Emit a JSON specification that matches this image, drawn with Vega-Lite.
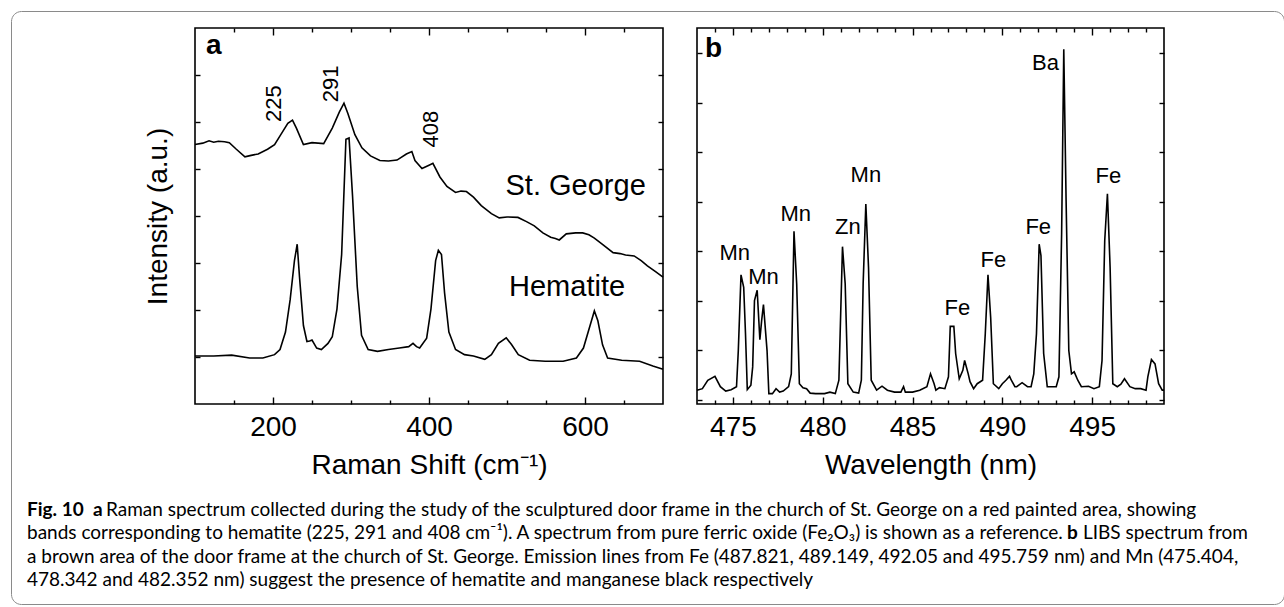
{
  "$schema": "https://vega.github.io/schema/vega-lite/v6.json",
  "padding": {"left": 10, "top": 10, "right": 0, "bottom": 0},
  "background": "white",
  "config": {
    "font": "Liberation Sans",
    "view": {"stroke": "black", "strokeWidth": 1.6},
    "axis": {"domain": false, "grid": false, "tickColor": "black", "tickWidth": 1.4, "labelColor": "black", "titleColor": "black", "labelFont": "Liberation Sans", "titleFont": "Liberation Sans", "labelFontSize": 28, "titleFontSize": 28, "titleFontWeight": "normal"},
    "text": {"font": "Liberation Sans", "color": "black"}
  },
  "datasets": {
    "raman": [
      {"sample":"St. George","shift":100,"intensity":5.52},{"sample":"St. George","shift":110,"intensity":5.55},{"sample":"St. George","shift":118,"intensity":5.6},{"sample":"St. George","shift":124,"intensity":5.57},{"sample":"St. George","shift":130,"intensity":5.59},{"sample":"St. George","shift":138,"intensity":5.58},{"sample":"St. George","shift":144,"intensity":5.56},{"sample":"St. George","shift":153,"intensity":5.42},{"sample":"St. George","shift":164,"intensity":5.26},{"sample":"St. George","shift":172,"intensity":5.29},{"sample":"St. George","shift":181,"intensity":5.32},{"sample":"St. George","shift":193,"intensity":5.42},{"sample":"St. George","shift":202,"intensity":5.52},{"sample":"St. George","shift":210,"intensity":5.73},{"sample":"St. George","shift":219,"intensity":5.97},{"sample":"St. George","shift":225,"intensity":6.04},{"sample":"St. George","shift":230,"intensity":5.87},{"sample":"St. George","shift":239,"intensity":5.52},{"sample":"St. George","shift":250,"intensity":5.56},{"sample":"St. George","shift":265,"intensity":5.54},{"sample":"St. George","shift":276,"intensity":5.87},{"sample":"St. George","shift":285,"intensity":6.21},{"sample":"St. George","shift":291,"intensity":6.4},{"sample":"St. George","shift":296,"intensity":6.18},{"sample":"St. George","shift":305,"intensity":5.73},{"sample":"St. George","shift":314,"intensity":5.45},{"sample":"St. George","shift":325,"intensity":5.28},{"sample":"St. George","shift":337,"intensity":5.18},{"sample":"St. George","shift":348,"intensity":5.17},{"sample":"St. George","shift":359,"intensity":5.19},{"sample":"St. George","shift":371,"intensity":5.32},{"sample":"St. George","shift":378,"intensity":5.37},{"sample":"St. George","shift":382,"intensity":5.18},{"sample":"St. George","shift":391,"intensity":5.01},{"sample":"St. George","shift":400,"intensity":5.08},{"sample":"St. George","shift":405,"intensity":5.12},{"sample":"St. George","shift":414,"intensity":4.83},{"sample":"St. George","shift":423,"intensity":4.63},{"sample":"St. George","shift":434,"intensity":4.5},{"sample":"St. George","shift":441,"intensity":4.53},{"sample":"St. George","shift":448,"intensity":4.52},{"sample":"St. George","shift":457,"intensity":4.4},{"sample":"St. George","shift":467,"intensity":4.22},{"sample":"St. George","shift":480,"intensity":4.05},{"sample":"St. George","shift":490,"intensity":3.96},{"sample":"St. George","shift":500,"intensity":3.98},{"sample":"St. George","shift":514,"intensity":3.97},{"sample":"St. George","shift":525,"intensity":3.88},{"sample":"St. George","shift":535,"intensity":3.79},{"sample":"St. George","shift":546,"intensity":3.64},{"sample":"St. George","shift":556,"intensity":3.55},{"sample":"St. George","shift":562,"intensity":3.52},{"sample":"St. George","shift":567,"intensity":3.49},{"sample":"St. George","shift":576,"intensity":3.62},{"sample":"St. George","shift":588,"intensity":3.64},{"sample":"St. George","shift":597,"intensity":3.64},{"sample":"St. George","shift":605,"intensity":3.6},{"sample":"St. George","shift":612,"intensity":3.53},{"sample":"St. George","shift":622,"intensity":3.4},{"sample":"St. George","shift":636,"intensity":3.22},{"sample":"St. George","shift":645,"intensity":3.2},{"sample":"St. George","shift":652,"intensity":3.17},{"sample":"St. George","shift":663,"intensity":3.15},{"sample":"St. George","shift":672,"intensity":3.05},{"sample":"St. George","shift":680,"intensity":2.94},{"sample":"St. George","shift":690,"intensity":2.82},{"sample":"St. George","shift":700,"intensity":2.7},
      {"sample":"Hematite","shift":100,"intensity":1.02},{"sample":"Hematite","shift":124,"intensity":1.02},{"sample":"Hematite","shift":147,"intensity":1.04},{"sample":"Hematite","shift":170,"intensity":0.98},{"sample":"Hematite","shift":187,"intensity":0.98},{"sample":"Hematite","shift":202,"intensity":1.05},{"sample":"Hematite","shift":209,"intensity":1.16},{"sample":"Hematite","shift":216,"intensity":1.53},{"sample":"Hematite","shift":222,"intensity":2.22},{"sample":"Hematite","shift":227.5,"intensity":3.05},{"sample":"Hematite","shift":231,"intensity":3.4},{"sample":"Hematite","shift":234,"intensity":2.7},{"sample":"Hematite","shift":239,"intensity":1.67},{"sample":"Hematite","shift":243.5,"intensity":1.33},{"sample":"Hematite","shift":247,"intensity":1.34},{"sample":"Hematite","shift":250,"intensity":1.36},{"sample":"Hematite","shift":256,"intensity":1.19},{"sample":"Hematite","shift":262,"intensity":1.16},{"sample":"Hematite","shift":270.5,"intensity":1.29},{"sample":"Hematite","shift":276,"intensity":1.43},{"sample":"Hematite","shift":282,"intensity":2.02},{"sample":"Hematite","shift":288,"intensity":3.18},{"sample":"Hematite","shift":293.5,"intensity":5.63},{"sample":"Hematite","shift":297.5,"intensity":5.66},{"sample":"Hematite","shift":302,"intensity":4.42},{"sample":"Hematite","shift":308,"intensity":2.5},{"sample":"Hematite","shift":313.5,"intensity":1.46},{"sample":"Hematite","shift":322,"intensity":1.16},{"sample":"Hematite","shift":334,"intensity":1.12},{"sample":"Hematite","shift":348,"intensity":1.16},{"sample":"Hematite","shift":362,"intensity":1.19},{"sample":"Hematite","shift":374,"intensity":1.22},{"sample":"Hematite","shift":379.5,"intensity":1.29},{"sample":"Hematite","shift":384,"intensity":1.22},{"sample":"Hematite","shift":388,"intensity":1.19},{"sample":"Hematite","shift":397,"intensity":1.4},{"sample":"Hematite","shift":402.5,"intensity":2.02},{"sample":"Hematite","shift":408.5,"intensity":3.05},{"sample":"Hematite","shift":412,"intensity":3.27},{"sample":"Hematite","shift":416,"intensity":3.18},{"sample":"Hematite","shift":420,"intensity":2.36},{"sample":"Hematite","shift":425.5,"intensity":1.53},{"sample":"Hematite","shift":434,"intensity":1.16},{"sample":"Hematite","shift":445.5,"intensity":1.05},{"sample":"Hematite","shift":457,"intensity":1.02},{"sample":"Hematite","shift":471.5,"intensity":0.95},{"sample":"Hematite","shift":480,"intensity":1.05},{"sample":"Hematite","shift":489,"intensity":1.29},{"sample":"Hematite","shift":499,"intensity":1.41},{"sample":"Hematite","shift":506,"intensity":1.26},{"sample":"Hematite","shift":514.5,"intensity":1.05},{"sample":"Hematite","shift":529,"intensity":0.93},{"sample":"Hematite","shift":549,"intensity":0.91},{"sample":"Hematite","shift":572,"intensity":0.91},{"sample":"Hematite","shift":589,"intensity":0.98},{"sample":"Hematite","shift":598,"intensity":1.19},{"sample":"Hematite","shift":606.5,"intensity":1.67},{"sample":"Hematite","shift":612,"intensity":1.98},{"sample":"Hematite","shift":616.5,"intensity":1.77},{"sample":"Hematite","shift":622.5,"intensity":1.26},{"sample":"Hematite","shift":629,"intensity":0.98},{"sample":"Hematite","shift":647,"intensity":0.93},{"sample":"Hematite","shift":670,"intensity":0.91},{"sample":"Hematite","shift":687,"intensity":0.81},{"sample":"Hematite","shift":700,"intensity":0.74}
    ],
    "ramanBands": [
      {"shift":201,"intensity":6.0,"label":"225"},
      {"shift":274,"intensity":6.42,"label":"291"},
      {"shift":402,"intensity":5.46,"label":"408"}
    ],
    "ramanNames": [
      {"shift":588,"intensity":4.64,"label":"St. George"},
      {"shift":577,"intensity":2.5,"label":"Hematite"}
    ],
    "panelA": [{"shift":114,"intensity":7.45,"label":"a"}],
    "libs": [
      {"wl":473.0,"counts":0.19},{"wl":473.3,"counts":0.22},{"wl":473.6,"counts":0.39},{"wl":474.0,"counts":0.47},{"wl":474.3,"counts":0.26},{"wl":474.6,"counts":0.17},{"wl":474.9,"counts":0.2},{"wl":475.2,"counts":0.26},{"wl":475.3,"counts":0.99},{"wl":475.45,"counts":2.52},{"wl":475.6,"counts":2.27},{"wl":475.7,"counts":1.33},{"wl":475.8,"counts":0.2},{"wl":476.0,"counts":0.29},{"wl":476.1,"counts":0.66},{"wl":476.2,"counts":2.0},{"wl":476.35,"counts":2.21},{"wl":476.5,"counts":1.21},{"wl":476.6,"counts":1.6},{"wl":476.7,"counts":1.92},{"wl":476.9,"counts":0.99},{"wl":477.0,"counts":0.12},{"wl":477.2,"counts":0.12},{"wl":477.4,"counts":0.22},{"wl":477.6,"counts":0.15},{"wl":477.8,"counts":0.17},{"wl":478.1,"counts":0.26},{"wl":478.25,"counts":0.52},{"wl":478.4,"counts":3.4},{"wl":478.55,"counts":2.34},{"wl":478.7,"counts":0.32},{"wl":478.9,"counts":0.24},{"wl":479.1,"counts":0.22},{"wl":479.3,"counts":0.13},{"wl":479.6,"counts":0.12},{"wl":480.1,"counts":0.12},{"wl":480.4,"counts":0.15},{"wl":480.7,"counts":0.12},{"wl":480.9,"counts":0.39},{"wl":481.1,"counts":3.09},{"wl":481.25,"counts":2.34},{"wl":481.4,"counts":0.32},{"wl":481.7,"counts":0.15},{"wl":482.0,"counts":0.13},{"wl":482.15,"counts":0.39},{"wl":482.25,"counts":2.34},{"wl":482.4,"counts":3.95},{"wl":482.55,"counts":2.67},{"wl":482.7,"counts":0.39},{"wl":483.0,"counts":0.19},{"wl":483.3,"counts":0.27},{"wl":483.6,"counts":0.19},{"wl":484.0,"counts":0.15},{"wl":484.35,"counts":0.15},{"wl":484.5,"counts":0.26},{"wl":484.6,"counts":0.15},{"wl":485.0,"counts":0.15},{"wl":485.4,"counts":0.19},{"wl":485.8,"counts":0.26},{"wl":486.0,"counts":0.52},{"wl":486.2,"counts":0.32},{"wl":486.3,"counts":0.19},{"wl":486.5,"counts":0.24},{"wl":486.8,"counts":0.22},{"wl":487.0,"counts":0.46},{"wl":487.1,"counts":1.48},{"wl":487.3,"counts":1.48},{"wl":487.4,"counts":0.93},{"wl":487.6,"counts":0.42},{"wl":487.8,"counts":0.59},{"wl":487.9,"counts":0.79},{"wl":488.1,"counts":0.52},{"wl":488.2,"counts":0.36},{"wl":488.4,"counts":0.22},{"wl":488.6,"counts":0.32},{"wl":488.9,"counts":0.39},{"wl":489.05,"counts":1.33},{"wl":489.2,"counts":2.52},{"wl":489.35,"counts":1.66},{"wl":489.5,"counts":0.32},{"wl":489.8,"counts":0.22},{"wl":490.0,"counts":0.32},{"wl":490.2,"counts":0.39},{"wl":490.4,"counts":0.47},{"wl":490.5,"counts":0.39},{"wl":490.7,"counts":0.26},{"wl":490.8,"counts":0.26},{"wl":491.1,"counts":0.34},{"wl":491.4,"counts":0.26},{"wl":491.6,"counts":0.26},{"wl":491.75,"counts":0.52},{"wl":491.9,"counts":1.33},{"wl":492.05,"counts":3.14},{"wl":492.15,"counts":2.91},{"wl":492.3,"counts":0.93},{"wl":492.5,"counts":0.26},{"wl":492.7,"counts":0.26},{"wl":493.0,"counts":0.26},{"wl":493.15,"counts":0.46},{"wl":493.3,"counts":3.34},{"wl":493.42,"counts":7.08},{"wl":493.55,"counts":4.01},{"wl":493.7,"counts":0.99},{"wl":493.85,"counts":0.52},{"wl":494.0,"counts":0.56},{"wl":494.2,"counts":0.39},{"wl":494.4,"counts":0.26},{"wl":494.8,"counts":0.27},{"wl":495.1,"counts":0.22},{"wl":495.4,"counts":0.26},{"wl":495.55,"counts":0.79},{"wl":495.7,"counts":3.21},{"wl":495.85,"counts":4.16},{"wl":496.0,"counts":2.67},{"wl":496.15,"counts":0.32},{"wl":496.4,"counts":0.26},{"wl":496.6,"counts":0.31},{"wl":496.8,"counts":0.42},{"wl":497.1,"counts":0.26},{"wl":497.4,"counts":0.22},{"wl":497.7,"counts":0.22},{"wl":498.0,"counts":0.19},{"wl":498.1,"counts":0.46},{"wl":498.3,"counts":0.81},{"wl":498.5,"counts":0.72},{"wl":498.7,"counts":0.32},{"wl":498.9,"counts":0.19},{"wl":499.0,"counts":0.19}
    ],
    "libsLabels": [
      {"wl":475.1,"counts":2.97,"label":"Mn"},
      {"wl":476.7,"counts":2.47,"label":"Mn"},
      {"wl":478.5,"counts":3.76,"label":"Mn"},
      {"wl":481.4,"counts":3.48,"label":"Zn"},
      {"wl":482.4,"counts":4.53,"label":"Mn"},
      {"wl":487.5,"counts":1.85,"label":"Fe"},
      {"wl":489.5,"counts":2.82,"label":"Fe"},
      {"wl":492.0,"counts":3.49,"label":"Fe"},
      {"wl":492.4,"counts":6.8,"label":"Ba"},
      {"wl":495.9,"counts":4.52,"label":"Fe"}
    ],
    "panelB": [{"wl":473.45,"counts":6.92,"label":"b"}],
    "caption": [
      {"line":1,"part":"bold1","text":"Fig. 10\u00a0\u00a0a"},
      {"line":1,"part":"reg1","text":"Raman spectrum collected during the study of the sculptured door frame in the church of St. George on a red painted area, showing"},
      {"line":2,"part":"reg0","text":"bands corresponding to hematite (225, 291 and 408 cm⁻¹). A spectrum from pure ferric oxide (Fe₂O₃) is shown as a reference."},
      {"line":2,"part":"bold2","text":"b"},
      {"line":2,"part":"reg2","text":"LIBS spectrum from"},
      {"line":3,"part":"reg0","text":"a brown area of the door frame at the church of St. George. Emission lines from Fe (487.821, 489.149, 492.05 and 495.759 nm) and Mn (475.404,"},
      {"line":4,"part":"reg0","text":"478.342 and 482.352 nm) suggest the presence of hematite and manganese black respectively"}
    ]
  },
  "bounds": "flush",
  "spacing": 0,
  "vconcat": [
    {
      "bounds": "flush",
      "spacing": 0,
      "vconcat": [
        {
          "width": 10, "height": 17,
          "view": {"stroke": null},
          "data": {"values": [{"v": 0}]},
          "mark": {"type": "point", "opacity": 0},
          "encoding": {}
        },
        {
          "bounds": "flush",
          "spacing": 34,
          "hconcat": [
            {
              "width": 150, "height": 376,
              "view": {"stroke": null},
              "data": {"values": [{"v": 0}]},
              "mark": {"type": "point", "opacity": 0},
              "encoding": {}
            },
            {
              "width": 468, "height": 376,
              "resolve": {"axis": {"x": "independent", "y": "independent"}},
              "layer": [
                {
                  "data": {"name": "raman"},
                  "mark": {"type": "line", "color": "black", "strokeWidth": 1.6},
                  "encoding": {
                    "x": {"field": "shift", "type": "quantitative", "scale": {"domain": [100, 700], "nice": false, "zero": false},
                          "axis": {"orient": "bottom", "values": [200, 400, 600], "tickSize": -7, "labelPadding": 16, "title": "Raman Shift (cm⁻¹)", "titlePadding": 10}},
                    "y": {"field": "intensity", "type": "quantitative", "scale": {"domain": [0, 8], "nice": false, "zero": false},
                          "axis": {"orient": "left", "values": [1, 2, 3, 4, 5, 6, 7], "tickSize": -5, "labels": false, "title": "Intensity (a.u.)", "titlePadding": 22}},
                    "detail": {"field": "sample"}
                  }
                },
                {
                  "data": {"name": "raman"},
                  "mark": {"type": "line", "opacity": 0},
                  "encoding": {
                    "x": {"field": "shift", "type": "quantitative", "axis": {"orient": "top", "values": [200, 400, 600], "tickSize": -7, "labels": false, "title": null}},
                    "y": {"field": "intensity", "type": "quantitative", "axis": {"orient": "right", "values": [1, 2, 3, 4, 5, 6, 7], "tickSize": -5, "labels": false, "title": null}},
                    "detail": {"field": "sample"}
                  }
                },
                {
                  "data": {"name": "raman"},
                  "mark": {"type": "line", "opacity": 0},
                  "encoding": {
                    "x": {"field": "shift", "type": "quantitative", "axis": {"orient": "bottom", "values": [150, 250, 300, 350, 450, 500, 550, 650], "tickSize": -4, "labels": false, "title": null}},
                    "y": {"field": "intensity", "type": "quantitative", "axis": null},
                    "detail": {"field": "sample"}
                  }
                },
                {
                  "data": {"name": "raman"},
                  "mark": {"type": "line", "opacity": 0},
                  "encoding": {
                    "x": {"field": "shift", "type": "quantitative", "axis": {"orient": "top", "values": [150, 250, 300, 350, 450, 500, 550, 650], "tickSize": -4, "labels": false, "title": null}},
                    "y": {"field": "intensity", "type": "quantitative", "axis": null},
                    "detail": {"field": "sample"}
                  }
                },
                {
                  "data": {"name": "ramanBands"},
                  "mark": {"type": "text", "angle": 270, "align": "left", "baseline": "middle", "fontSize": 22},
                  "encoding": {
                    "x": {"field": "shift", "type": "quantitative", "axis": null},
                    "y": {"field": "intensity", "type": "quantitative", "axis": null},
                    "text": {"field": "label"}
                  }
                },
                {
                  "data": {"name": "ramanNames"},
                  "mark": {"type": "text", "align": "center", "baseline": "middle", "fontSize": 29},
                  "encoding": {
                    "x": {"field": "shift", "type": "quantitative", "axis": null},
                    "y": {"field": "intensity", "type": "quantitative", "axis": null},
                    "text": {"field": "label"}
                  }
                },
                {
                  "data": {"name": "panelA"},
                  "mark": {"type": "text", "align": "left", "baseline": "alphabetic", "fontSize": 28, "fontWeight": "bold"},
                  "encoding": {
                    "x": {"field": "shift", "type": "quantitative", "axis": null},
                    "y": {"field": "intensity", "type": "quantitative", "axis": null},
                    "text": {"field": "label"}
                  }
                }
              ]
            },
            {
              "width": 467, "height": 376,
              "resolve": {"axis": {"x": "independent", "y": "independent"}},
              "layer": [
                {
                  "data": {"name": "libs"},
                  "mark": {"type": "line", "color": "black", "strokeWidth": 1.6},
                  "encoding": {
                    "x": {"field": "wl", "type": "quantitative", "scale": {"domain": [473, 499], "nice": false, "zero": false},
                          "axis": {"orient": "bottom", "values": [475, 480, 485, 490, 495], "tickSize": -7, "labelPadding": 16, "title": "Wavelength (nm)", "titlePadding": 10}},
                    "y": {"field": "counts", "type": "quantitative", "scale": {"domain": [-0.09, 7.51], "nice": false, "zero": false},
                          "axis": {"orient": "left", "values": [0, 1, 2, 3, 4, 5, 6, 7], "tickSize": -5, "labels": false, "title": null}}
                  }
                },
                {
                  "data": {"name": "libs"},
                  "mark": {"type": "line", "opacity": 0},
                  "encoding": {
                    "x": {"field": "wl", "type": "quantitative", "axis": {"orient": "top", "values": [475, 480, 485, 490, 495], "tickSize": -7, "labels": false, "title": null}},
                    "y": {"field": "counts", "type": "quantitative", "axis": {"orient": "right", "values": [0, 1, 2, 3, 4, 5, 6, 7], "tickSize": -5, "labels": false, "title": null}}
                  }
                },
                {
                  "data": {"name": "libs"},
                  "mark": {"type": "line", "opacity": 0},
                  "encoding": {
                    "x": {"field": "wl", "type": "quantitative", "axis": {"orient": "bottom", "values": [474, 476, 477, 478, 479, 481, 482, 483, 484, 486, 487, 488, 489, 491, 492, 493, 494, 496, 497, 498], "tickSize": -4, "labels": false, "title": null}},
                    "y": {"field": "counts", "type": "quantitative", "axis": null}
                  }
                },
                {
                  "data": {"name": "libs"},
                  "mark": {"type": "line", "opacity": 0},
                  "encoding": {
                    "x": {"field": "wl", "type": "quantitative", "axis": {"orient": "top", "values": [474, 476, 477, 478, 479, 481, 482, 483, 484, 486, 487, 488, 489, 491, 492, 493, 494, 496, 497, 498], "tickSize": -4, "labels": false, "title": null}},
                    "y": {"field": "counts", "type": "quantitative", "axis": null}
                  }
                },
                {
                  "data": {"name": "libsLabels"},
                  "mark": {"type": "text", "align": "center", "baseline": "middle", "fontSize": 22},
                  "encoding": {
                    "x": {"field": "wl", "type": "quantitative", "axis": null},
                    "y": {"field": "counts", "type": "quantitative", "axis": null},
                    "text": {"field": "label"}
                  }
                },
                {
                  "data": {"name": "panelB"},
                  "mark": {"type": "text", "align": "left", "baseline": "alphabetic", "fontSize": 28, "fontWeight": "bold"},
                  "encoding": {
                    "x": {"field": "wl", "type": "quantitative", "axis": null},
                    "y": {"field": "counts", "type": "quantitative", "axis": null},
                    "text": {"field": "label"}
                  }
                }
              ]
            }
          ]
        }
      ]
    },
    {
      "width": 1273, "height": 593,
      "view": {"stroke": "#8a8a8a", "strokeWidth": 1, "cornerRadius": 10},
      "data": {"name": "caption"},
      "encoding": {
        "x": {"datum": 0, "type": "quantitative", "scale": {"domain": [0, 1]}, "axis": null},
        "y": {"field": "line", "type": "quantitative", "scale": {"domain": [-20.64, 4.77], "reverse": true}, "axis": null},
        "text": {"field": "text"}
      },
      "layer": [
        {"transform": [{"filter": "datum.part == 'bold1'"}], "mark": {"type": "text", "align": "left", "baseline": "alphabetic", "font": "Lato", "fontSize": 19, "fontWeight": "bold", "dx": 16}},
        {"transform": [{"filter": "datum.part == 'reg1'"}], "mark": {"type": "text", "align": "left", "baseline": "alphabetic", "font": "Lato", "fontSize": 19, "dx": 95}},
        {"transform": [{"filter": "datum.part == 'reg0'"}], "mark": {"type": "text", "align": "left", "baseline": "alphabetic", "font": "Lato", "fontSize": 19, "dx": 16}},
        {"transform": [{"filter": "datum.part == 'bold2'"}], "mark": {"type": "text", "align": "left", "baseline": "alphabetic", "font": "Lato", "fontSize": 19, "fontWeight": "bold", "dx": 1056}},
        {"transform": [{"filter": "datum.part == 'reg2'"}], "mark": {"type": "text", "align": "left", "baseline": "alphabetic", "font": "Lato", "fontSize": 19, "dx": 1072}}
      ]
    }
  ]
}
